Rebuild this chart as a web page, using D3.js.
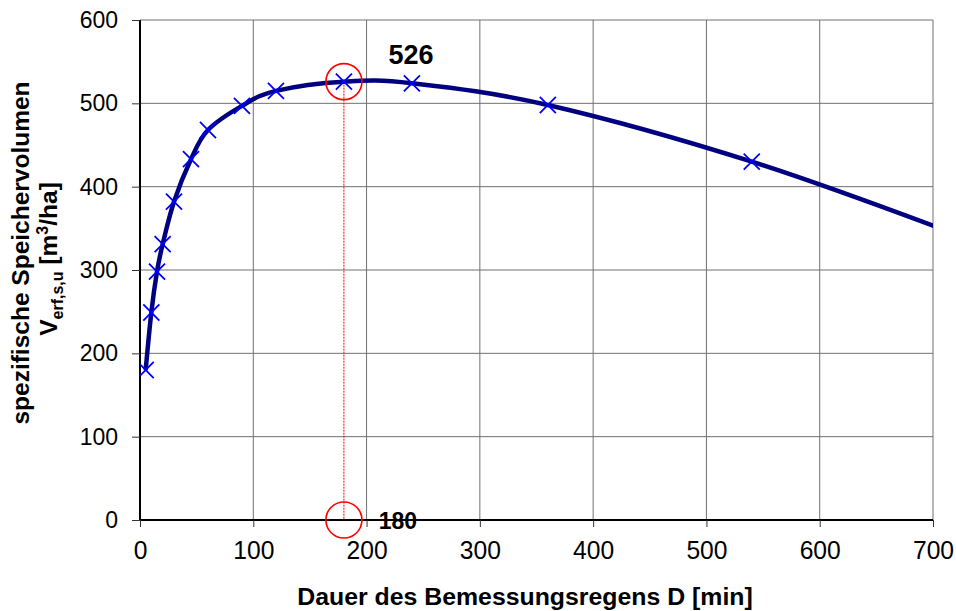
<!DOCTYPE html>
<html>
<head>
<meta charset="utf-8">
<script src="https://cdn.jsdelivr.net/npm/d3@7"></script>
<style>
  body { margin: 0; background: #fff; }
  svg { display: block; font-family: "Liberation Sans", Arial, sans-serif; }
</style>
</head>
<body>
<div id="chart"></div>
<script>
// Dauer des Bemessungsregens D [min] and spezifisches Speichervolumen [m3/ha]
var durations = [5, 10, 15, 20, 30, 45, 60, 90, 120, 180, 240, 360, 540, 720];
var volumes   = [180, 249, 298, 331, 382, 433, 468, 497, 515, 526, 524, 498, 430, 343];
var xTicks = [0, 100, 200, 300, 400, 500, 600, 700];
var yTicks = [0, 100, 200, 300, 400, 500, 600];

var margin = {top: 20, right: 23, bottom: 91, left: 140};
var width = 956 - margin.left - margin.right;
var height = 611 - margin.top - margin.bottom;

var data = durations.map(function(d, i) { return {d: d, v: volumes[i]}; });
var peak = data.reduce(function(a, b) { return b.v > a.v ? b : a; });

var x = d3.scaleLinear().domain([0, 700]).range([0, width]);
var y = d3.scaleLinear().domain([0, 600]).range([height, 0]);

var svg = d3.select("#chart").append("svg")
    .attr("width", 956)
    .attr("height", 611)
  .append("g")
    .attr("transform", "translate(" + margin.left + "," + margin.top + ")");

svg.append("clipPath").attr("id", "plot")
  .append("rect").attr("width", width).attr("height", height);

// gridlines
svg.append("g").selectAll("line").data(xTicks.slice(1)).enter().append("line")
    .attr("x1", function(d) { return x(d); }).attr("x2", function(d) { return x(d); })
    .attr("y1", 0).attr("y2", height)
    .attr("stroke", "#707070").attr("stroke-width", 1);
svg.append("g").selectAll("line").data(yTicks.slice(1)).enter().append("line")
    .attr("y1", function(d) { return y(d); }).attr("y2", function(d) { return y(d); })
    .attr("x1", 0).attr("x2", width)
    .attr("stroke", "#707070").attr("stroke-width", 1);

// y axis
var yAxis = svg.append("g")
    .call(d3.axisLeft(y).tickValues(yTicks).tickSize(8).tickPadding(14).tickFormat(d3.format("d")));
yAxis.select(".domain").attr("stroke", "#000").attr("stroke-width", 2).attr("d", "M0,0V" + height);
yAxis.selectAll(".tick line").attr("stroke", "#333");
yAxis.selectAll("text")
    .style("font-family", "Liberation Sans, Arial, sans-serif")
    .style("font-size", "23px")
    .attr("fill", "#000");

// x axis
var xAxis = svg.append("g")
    .attr("transform", "translate(0," + height + ")")
    .call(d3.axisBottom(x).tickValues(xTicks).tickSize(7).tickPadding(10).tickFormat(d3.format("d")));
xAxis.select(".domain").attr("stroke", "#000").attr("stroke-width", 2).attr("d", "M0,0H" + width);
xAxis.selectAll(".tick line").attr("stroke", "#333");
xAxis.selectAll("text")
    .style("font-family", "Liberation Sans, Arial, sans-serif")
    .style("font-size", "26.5px")
    .attr("fill", "#000")
    .attr("dy", "0.71em")
    .attr("y", 20)
    .attr("lengthAdjust", "spacingAndGlyphs")
    .attr("textLength", function() { return this.getComputedTextLength() * 0.93; });

// red dotted guide from the peak down to the x axis
svg.append("line")
    .attr("x1", x(peak.d)).attr("x2", x(peak.d))
    .attr("y1", y(peak.v)).attr("y2", y(0))
    .attr("stroke", "#ff0000").attr("stroke-width", 1)
    .attr("stroke-dasharray", "2,1");

// curve
var valueline = d3.line()
    .x(function(d) { return x(d.d); })
    .y(function(d) { return y(d.v); })
    .curve(d3.curveCardinal.tension(0));

var plot = svg.append("g").attr("clip-path", "url(#plot)");

plot.append("path")
    .datum(data)
    .attr("d", valueline)
    .attr("fill", "none")
    .attr("stroke", "#000080")
    .attr("stroke-width", 4.5);

// x markers
plot.selectAll(".marker")
    .data(data)
    .enter().append("path")
    .attr("class", "marker")
    .attr("transform", function(d) { return "translate(" + x(d.d) + "," + y(d.v) + ")"; })
    .attr("d", d3.symbol().type(d3.symbolTimes).size(170))
    .attr("fill", "none")
    .attr("stroke", "#0000ff")
    .attr("stroke-width", 1.8);

// red circles at the peak and on the axis
svg.selectAll(".ring")
    .data([peak.v, 0])
    .enter().append("circle")
    .attr("class", "ring")
    .attr("cx", x(peak.d))
    .attr("cy", function(d) { return y(d); })
    .attr("r", 18)
    .attr("fill", "none")
    .attr("stroke", "#ff0000")
    .attr("stroke-width", 1.6);

// peak labels
svg.append("text")
    .attr("x", x(peak.d) + 67)
    .attr("y", y(peak.v) - 18)
    .attr("text-anchor", "middle")
    .style("font-size", "27px")
    .style("font-weight", 700)
    .text(peak.v);

svg.append("text")
    .attr("x", x(peak.d) + 54)
    .attr("y", y(0) + 8.5)
    .attr("text-anchor", "middle")
    .style("font-size", "23px")
    .style("font-weight", 700)
    .text(peak.d);

// x axis title
svg.append("text")
    .attr("x", 525 - margin.left)
    .attr("y", 605 - margin.top)
    .attr("text-anchor", "middle")
    .style("font-size", "23px")
    .style("font-weight", 700)
    .attr("lengthAdjust", "spacingAndGlyphs")
    .text("Dauer des Bemessungsregens D [min]")
    .attr("textLength", function() { return this.getComputedTextLength() * 1.08; });

// y axis title, two lines
var yTitle = svg.append("g")
    .attr("transform", "translate(" + (-margin.left) + "," + (-margin.top) + ") rotate(-90)")
    .style("font-weight", 700);

yTitle.append("text")
    .attr("x", -253)
    .attr("y", 29)
    .attr("text-anchor", "middle")
    .style("font-size", "24.5px")
    .text("spezifische Speichervolumen");

var t2 = yTitle.append("text")
    .attr("x", -259)
    .attr("y", 57)
    .attr("text-anchor", "middle")
    .style("font-size", "24.5px");
t2.append("tspan").text("V");
t2.append("tspan").attr("dy", 6).style("font-size", "16px").text("erf,s,u");
t2.append("tspan").attr("dy", -6).text(" [m");
t2.append("tspan").attr("dy", -9).style("font-size", "16px").text("3");
t2.append("tspan").attr("dy", 9).text("/ha]");
</script>
</body>
</html>
